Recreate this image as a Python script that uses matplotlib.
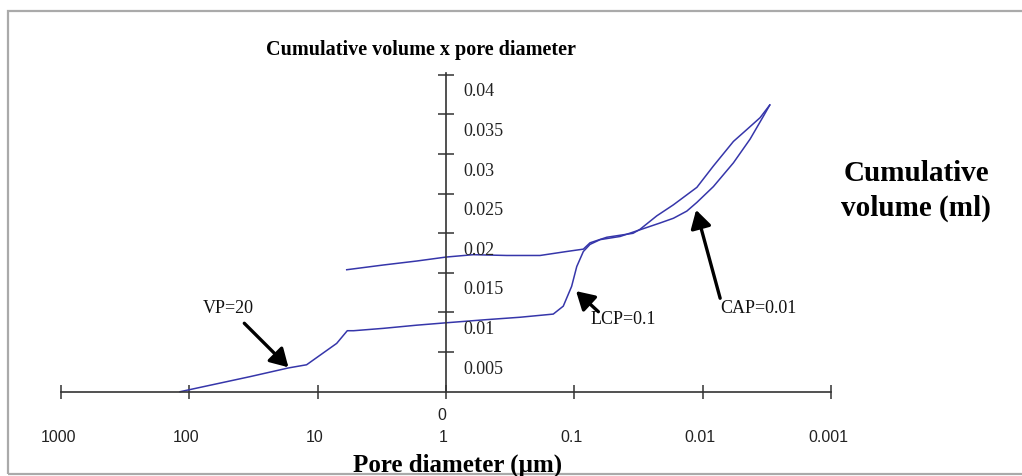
import matplotlib
matplotlib.use("Agg")
import matplotlib.pyplot as plt
from matplotlib.patches import Rectangle

# intrusion curve (lower), pore diameter in um vs cumulative volume in ml
intr_d = [118, 33.7, 16.9, 12.2, 9.04, 7.11, 5.88, 5.25, 3.07, 1.69, 1.0, 0.482, 0.265,
          0.146, 0.122, 0.105, 0.0958, 0.0851, 0.0755, 0.063, 0.044, 0.0327, 0.0215,
          0.0169, 0.0133, 0.0111, 0.00825, 0.00576, 0.00427, 0.00336, 0.003]
intr_v = [0.0, 0.0019, 0.0030, 0.0034, 0.0049, 0.0061, 0.0077, 0.0077, 0.0080, 0.0084,
          0.0087, 0.0091, 0.0094, 0.0098, 0.0108, 0.0133, 0.0158, 0.0177, 0.0186, 0.0192,
          0.0196, 0.0203, 0.0213, 0.0219, 0.0228, 0.0239, 0.0259, 0.0289, 0.0319, 0.0348,
          0.0362]

# extrusion curve (upper)
extr_d = [0.003, 0.00357, 0.00453, 0.00576, 0.00825, 0.0111, 0.0169, 0.0228, 0.0308,
          0.0349, 0.0559, 0.0755, 0.0851, 0.115, 0.185, 0.336, 0.613, 1.0, 1.69, 3.07, 5.94]
extr_v = [0.0362, 0.0346, 0.0331, 0.0316, 0.0285, 0.0258, 0.0236, 0.0222, 0.0205,
          0.0200, 0.0195, 0.0188, 0.0180, 0.0177, 0.0172, 0.0172, 0.0173, 0.0170, 0.0165,
          0.0160, 0.0154]

x_ticks = [1000, 100, 10, 1, 0.1, 0.01, 0.001]
x_labels = ["1000", "100", "10", "1", "0.1", "0.01", "0.001"]
y_ticks = [0.005, 0.01, 0.015, 0.02, 0.025, 0.03, 0.035, 0.04]
y_labels = ["0.005", "0.01", "0.015", "0.02", "0.025", "0.03", "0.035", "0.04"]

# annotations: text, text position, arrow tail, arrow tip (diameter, volume)
notes = [
    ("VP=20", (49.8, 0.01053), (37.3, 0.00864), (16.9, 0.00308)),
    ("LCP=0.1", (0.0415, 0.00906), (0.065, 0.0101), (0.097, 0.0127)),
    ("CAP=0.01", (0.00368, 0.01053), (0.00731, 0.0118), (0.01125, 0.02295)),
]

fig = plt.figure(figsize=(10.22, 4.76), dpi=100)
ax = fig.add_axes([0, 0, 1, 1])
ax.set_facecolor("none")
ax.set_xscale("log")
ax.set_xlim(2988, 3.25e-5)
ax.set_ylim(-0.010644, 0.049457)

line_c = "#3636aa"
ax.plot(intr_d, intr_v, color=line_c, lw=1.1)
ax.plot(extr_d, extr_v, color=line_c, lw=1.1)

axis_c = "#333333"
for s in ["top", "right"]:
    ax.spines[s].set_visible(False)
ax.spines["left"].set_position(("data", 1))
ax.spines["bottom"].set_position(("data", 0))
ax.spines["left"].set_bounds(0, 0.0402)
ax.spines["bottom"].set_bounds(1000, 0.001)
for s in ["left", "bottom"]:
    ax.spines[s].set_color(axis_c)
    ax.spines[s].set_linewidth(1.2)

ax.minorticks_off()
ax.set_xticks(x_ticks)
ax.set_yticks(y_ticks)
ax.tick_params(axis="x", direction="inout", length=9.5, width=1.1, color=axis_c,
               labelbottom=False)
ax.tick_params(axis="y", direction="inout", length=11, width=1.1, color=axis_c,
               labelleft=False)

for v, lab in zip(x_ticks, x_labels):
    ax.annotate(lab, (v, 0), xytext=(-3, -46), textcoords="offset pixels",
                ha="center", va="center", fontsize=11.5, family="Liberation Sans",
                color="#222222")
ax.annotate("0", (1, 0), xytext=(-4, -24), textcoords="offset pixels",
            ha="center", va="center", fontsize=11.5, family="Liberation Sans",
            color="#222222")

for v, lab in zip(y_ticks, y_labels):
    ax.annotate(lab, (1, v), xytext=(17, -17), textcoords="offset pixels",
                ha="left", va="center", fontsize=13, family="Liberation Serif",
                color="#222222")

for txt, tpos, tail, tip in notes:
    ax.text(tpos[0], tpos[1], txt, ha="center", va="center", fontsize=13,
            family="Liberation Serif", color="#111111")
    ax.annotate("", xy=tip, xytext=tail,
                arrowprops=dict(arrowstyle="-|>,head_length=0.6,head_width=0.35",
                                mutation_scale=18, lw=2.4, color="black",
                                shrinkA=0, shrinkB=0))

W, H = 1022, 476
fig.text(420.5 / W, 1 - 55 / H, "Cumulative volume x pore diameter", ha="center",
         va="baseline", fontsize=14.5, fontweight="bold", family="Liberation Serif")
fig.text(916 / W, 1 - 191 / H, "Cumulative\nvolume (ml)", ha="center", va="center",
         fontsize=21, fontweight="bold", family="Liberation Serif", linespacing=1.38)
fig.text(458 / W, 1 - 472 / H, "Pore diameter (\u00b5m)", ha="center", va="baseline",
         fontsize=18, fontweight="bold", family="Liberation Serif")

fig.patches.append(Rectangle((8 / W, 1 - 474 / H), 1.1, (474 - 11) / H,
                             transform=fig.transFigure, fill=False,
                             edgecolor="#aaaaaa", lw=1.6))

fig.savefig("out.png", dpi=100)
